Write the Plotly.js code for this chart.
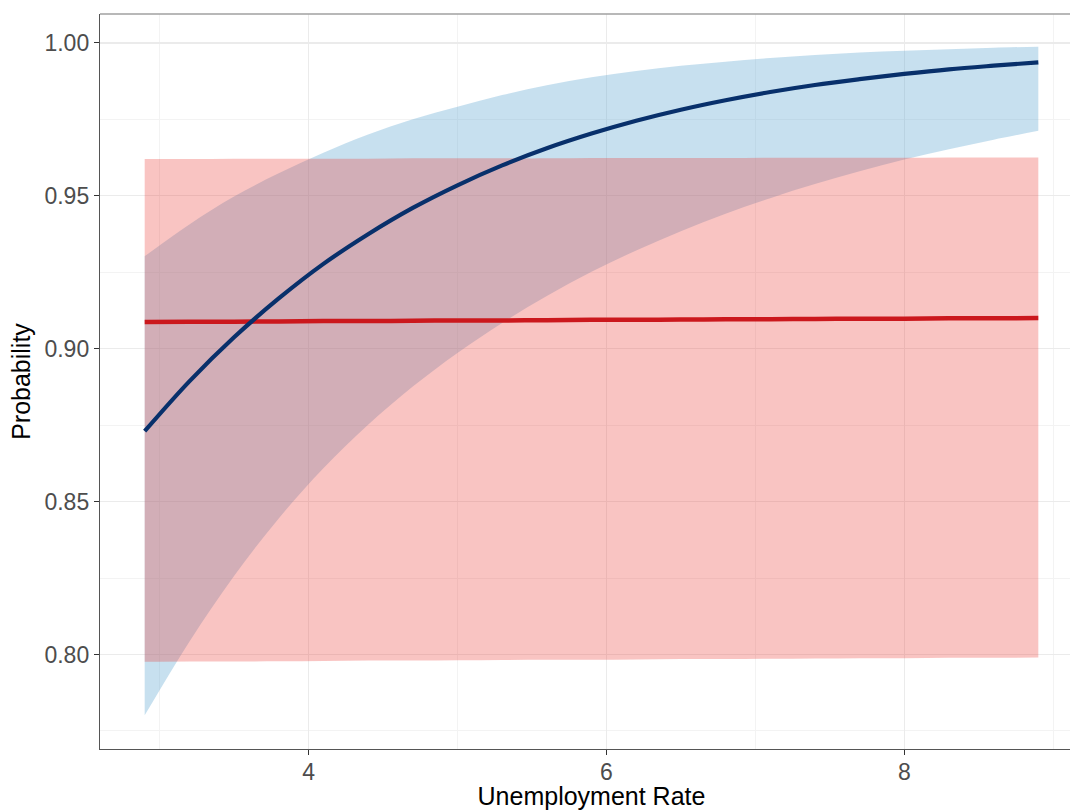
<!DOCTYPE html>
<html>
<head>
<meta charset="utf-8">
<script src="https://cdn.plot.ly/plotly-3.0.1.min.js"></script>
<style>
html, body { margin: 0; padding: 0; overflow: hidden; background: #fff; }
#chart { width: 1090px; height: 810px; }
</style>
</head>
<body>
<div id="chart"></div>
<script>
// Unemployment rate grid
const unemployment = [2.9, 3.2, 3.5, 3.8, 4.1, 4.4, 4.7, 5.0, 5.3, 5.6, 5.9, 6.2, 6.5, 6.8, 7.1, 7.4, 7.7, 8.0, 8.3, 8.6, 8.9];

// Blue series (curve with confidence band)
const blueFit   = [0.8730, 0.8893, 0.9037, 0.9164, 0.9277, 0.9374, 0.9460, 0.9534, 0.9599, 0.9655, 0.9703, 0.9745, 0.9781, 0.9812, 0.9839, 0.9862, 0.9881, 0.9898, 0.9913, 0.9925, 0.9936];
const blueUpper = [0.9302, 0.9406, 0.9497, 0.9573, 0.9640, 0.9700, 0.9750, 0.9791, 0.9829, 0.9861, 0.9887, 0.9908, 0.9925, 0.9938, 0.9950, 0.9960, 0.9968, 0.9974, 0.9979, 0.9984, 0.9987];
const blueLower = [0.7801, 0.8042, 0.8257, 0.8445, 0.8609, 0.8751, 0.8876, 0.8986, 0.9084, 0.9172, 0.9251, 0.9321, 0.9384, 0.9441, 0.9492, 0.9538, 0.9580, 0.9618, 0.9652, 0.9683, 0.9712];

// Red series (nearly flat with wide band)
const redFit   = [0.9087, 0.9088, 0.9088, 0.9089, 0.9090, 0.9090, 0.9091, 0.9092, 0.9092, 0.9093, 0.9094, 0.9094, 0.9095, 0.9096, 0.9096, 0.9097, 0.9098, 0.9098, 0.9099, 0.9099, 0.9100];
const redUpper = [0.9620, 0.9620, 0.9621, 0.9621, 0.9621, 0.9621, 0.9622, 0.9622, 0.9622, 0.9622, 0.9623, 0.9623, 0.9623, 0.9623, 0.9624, 0.9624, 0.9624, 0.9624, 0.9625, 0.9625, 0.9625];
const redLower = [0.7976, 0.7977, 0.7977, 0.7978, 0.7979, 0.7980, 0.7980, 0.7981, 0.7982, 0.7983, 0.7983, 0.7984, 0.7985, 0.7985, 0.7986, 0.7987, 0.7988, 0.7988, 0.7989, 0.7989, 0.7990];

const xTicks = [4, 6, 8];
const xTickText = ['4', '6', '8'];
const yTicks = [0.80, 0.85, 0.90, 0.95, 1.00];
const yTickText = ['0.80', '0.85', '0.90', '0.95', '1.00'];

const FONT = 'Liberation Sans, Arial, sans-serif';

const traces = [
  { x: unemployment, y: blueLower, type: 'scatter', mode: 'lines', line: { width: 0, shape: 'spline' }, hoverinfo: 'skip', showlegend: false },
  { x: unemployment, y: blueUpper, type: 'scatter', mode: 'lines', line: { width: 0, shape: 'spline' }, fill: 'tonexty', fillcolor: 'rgba(107,174,214,0.38)', hoverinfo: 'skip', showlegend: false },
  { x: unemployment, y: redLower, type: 'scatter', mode: 'lines', line: { width: 0, shape: 'spline' }, hoverinfo: 'skip', showlegend: false },
  { x: unemployment, y: redUpper, type: 'scatter', mode: 'lines', line: { width: 0, shape: 'spline' }, fill: 'tonexty', fillcolor: 'rgba(235,58,52,0.30)', hoverinfo: 'skip', showlegend: false },
  { x: unemployment, y: redFit, type: 'scatter', mode: 'lines', line: { color: '#CB181D', width: 4.5, shape: 'spline' }, showlegend: false },
  { x: unemployment, y: blueFit, type: 'scatter', mode: 'lines', line: { color: '#08306B', width: 4.2, shape: 'spline' }, showlegend: false }
];

const layout = {
  width: 1090,
  height: 810,
  margin: { l: 100, r: 7, t: 14, b: 61 },
  paper_bgcolor: '#ffffff',
  plot_bgcolor: '#ffffff',
  font: { family: FONT, color: '#4d4d4d' },
  showlegend: false,
  xaxis: {
    range: [2.6, 9.2],
    tickvals: xTicks,
    ticktext: xTickText,
    ticks: 'outside',
    ticklen: 5,
    tickwidth: 1,
    tickcolor: '#333333',
    ticklabelstandoff: -3,
    tickfont: { size: 23, color: '#4d4d4d', family: FONT },
    showgrid: true,
    gridcolor: '#ebebeb',
    gridwidth: 1.5,
    minor: { tickvals: [3, 5, 7, 9], showgrid: true, gridcolor: '#f3f3f3', gridwidth: 1, ticks: '' },
    showline: true,
    linecolor: '#555555',
    linewidth: 1.2,
    zeroline: false,
    automargin: false,
    title: { text: 'Unemployment Rate', font: { size: 25, color: '#000000', family: FONT }, standoff: 5 }
  },
  yaxis: {
    range: [0.7691, 1.0094],
    tickvals: yTicks,
    ticktext: yTickText,
    ticks: 'outside',
    ticklen: 5,
    tickwidth: 1,
    tickcolor: '#333333',
    tickfont: { size: 23, color: '#4d4d4d', family: FONT },
    showgrid: true,
    gridcolor: '#ebebeb',
    gridwidth: 1.5,
    minor: { tickvals: [0.775, 0.825, 0.875, 0.925, 0.975], showgrid: true, gridcolor: '#f3f3f3', gridwidth: 1, ticks: '' },
    showline: true,
    linecolor: '#555555',
    linewidth: 1.2,
    zeroline: false,
    automargin: false,
    title: { text: 'Probability', font: { size: 25, color: '#000000', family: FONT }, standoff: 6 }
  },
  shapes: [
    { type: 'line', xref: 'paper', yref: 'paper', x0: 0, x1: 1, y0: 1, y1: 1, line: { color: '#a0a0a0', width: 1.5 } }
  ]
};

Plotly.newPlot('chart', traces, layout, { displayModeBar: false, staticPlot: true });
</script>
</body>
</html>
